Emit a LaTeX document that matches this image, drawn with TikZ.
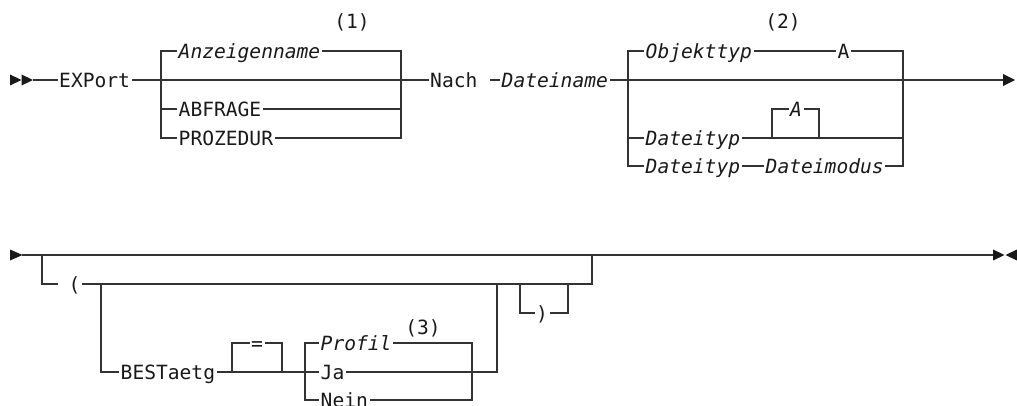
\documentclass[tikz,border=0pt]{standalone}
\usepackage{fontspec}
\setmainfont{DejaVu Sans Mono}
\usepackage{tikz}
\newcommand{\railfont}{\fontsize{19.6}{22}\selectfont}

\begin{document}
\begin{tikzpicture}[x=1pt, y=-1pt,
  rail/.style={line width=1.2pt, black!80},
  kw/.style={anchor=west, inner xsep=1.5pt, inner ysep=0pt, text height=14.3pt,
             text depth=0pt, font=\railfont, text=black!90},
  var/.style={kw, font=\railfont\itshape},
  note/.style={inner sep=0pt, font=\railfont, text=black!90},
  tip/.style={fill=black!90},
]
\useasboundingbox (0,0) rectangle (1017,406);

% Row 1: EXPort ... Nach Dateiname
\fill[tip] (10,74.5) -- (21.5,80) -- (10,85.5) -- cycle;
\fill[tip] (21.5,74.5) -- (33,80) -- (21.5,85.5) -- cycle;
\coordinate (start) at (33,80);
\node[kw] (export) at (57.5,80) {EXPort};
\draw[rail] (start) -- (export);

\node[note] (n1) at (352,22) {(1)};
\node[var] (anzeige) at (177,51)  {Anzeigenname};
\node[kw]  (abfrage) at (177,109) {ABFRAGE};
\node[kw]  (proz)    at (177,138) {PROZEDUR};
\coordinate (b1l) at (161,80);
\coordinate (b1r) at (401,80);
\draw[rail] (export) -- (b1l) -- (b1r);
\draw[rail] (anzeige.west) -| (b1l |- proz) -- (proz.west);
\draw[rail] (b1l |- abfrage) -- (abfrage.west);
\draw[rail] (anzeige.east) -| (b1r |- proz) -- (proz.east);
\draw[rail] (abfrage.east) -- (b1r |- abfrage);

\node[kw] (nach) at (428.5,80) {Nach};
\draw[rail] (b1r) -- (nach);
\coordinate (dstub) at (490,80);
\node[var] (dname) at (500,80) {Dateiname};
\draw[rail] (dstub) -- (dname);

\node[note] (n2) at (783,22) {(2)};
\node[var] (objtyp) at (644,51)  {Objekttyp};
\node[kw]  (objA)   at (836,51)  {A};
\node[var] (loopA)  at (788.5,109) {A};
\node[var] (dtyp1)  at (644,138) {Dateityp};
\node[var] (dtyp2)  at (644,166) {Dateityp};
\node[var] (dmod)   at (764,166) {Dateimodus};
\coordinate (b2l) at (628,80);
\coordinate (b2r) at (903,80);
\coordinate (end1) at (1003,80);
\draw[rail] (dname) -- (b2l) -- (b2r) -- (end1);
\fill[tip] (1003,74) -- (1015,80) -- (1003,86) -- cycle;
\draw[rail] (objtyp.west) -| (b2l |- dtyp2) -- (dtyp2.west);
\draw[rail] (b2l |- dtyp1) -- (dtyp1.west);
\draw[rail] (objtyp) -- (objA);
\draw[rail] (objA.east) -| (b2r |- dtyp2) -- (dmod.east);
\draw[rail] (dtyp2) -- (dmod);
\draw[rail] (dtyp1.east) -- (b2r |- dtyp1);
\coordinate (l2l) at (772,138);
\coordinate (l2r) at (819,138);
\draw[rail] (l2l) |- (loopA.west);
\draw[rail] (loopA.east) -| (l2r);

% Row 2: ( BESTaetg = Profil/Ja/Nein )
\fill[tip] (10,249.5) -- (22.5,255) -- (10,260.5) -- cycle;
\coordinate (r2s) at (22,255);
\coordinate (r2l) at (42,255);
\coordinate (r2r) at (592,255);
\coordinate (r2e) at (993,255);
\draw[rail] (r2s) -- (r2e);
\fill[tip] (993,249.5) -- (1004.5,255) -- (993,260.5) -- cycle;
\fill[tip] (1017,249.5) -- (1005.5,255) -- (1017,260.5) -- cycle;

\coordinate (lstub) at (58,284);
\node[kw] (lpar) at (67,284) {(};
\draw[rail] (r2l) |- (lstub);
\coordinate (b3l) at (101,284);
\coordinate (b3r) at (497,284);
\coordinate (b4r) at (592,284);
\draw[rail] (lpar) -- (b4r) -- (r2r);

\coordinate (p1) at (520,284);
\coordinate (p2) at (568,284);
\node[kw] (rpar) at (534.5,313) {)};
\draw[rail] (p1) |- (rpar.west);
\draw[rail] (rpar.east) -| (p2);

\node[kw] (best) at (119,372) {BESTaetg};
\draw[rail] (b3l) |- (best.west);
\coordinate (eql) at (232,372);
\coordinate (eqr) at (282,372);
\node[kw] (eq) at (249.5,343) {=};
\draw[rail] (eql) |- (eq.west);
\draw[rail] (eq.east) -| (eqr);

\node[note] (n3) at (423,328) {(3)};
\node[var] (profil) at (319,343) {Profil};
\node[kw]  (ja)     at (319,372) {Ja};
\node[kw]  (nein)   at (319,400) {Nein};
\coordinate (b5l) at (305,372);
\coordinate (b5r) at (472,372);
\draw[rail] (best) -- (ja);
\draw[rail] (profil.west) -| (b5l |- nein) -- (nein.west);
\draw[rail] (profil.east) -| (b5r |- nein) -- (nein.east);
\draw[rail] (ja) -- (b3r |- ja) -- (b3r);
\end{tikzpicture}
\end{document}
